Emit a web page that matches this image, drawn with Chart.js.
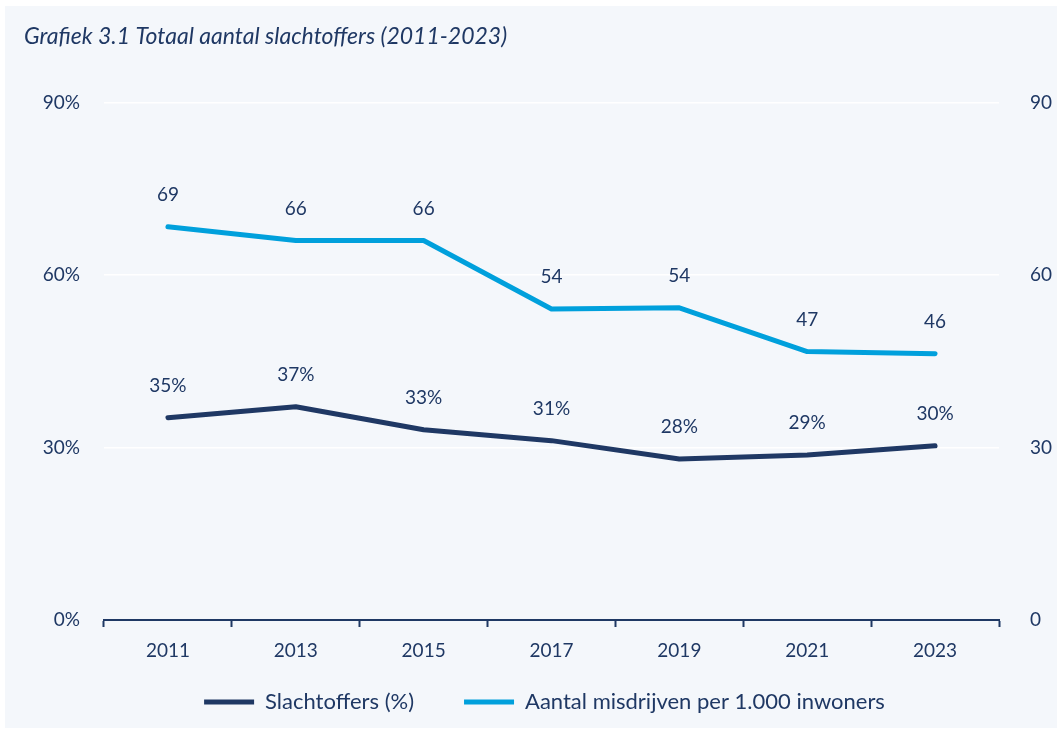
<!DOCTYPE html>
<html>
<head>
<meta charset="utf-8">
<script src="https://cdn.jsdelivr.net/npm/chart.js@4"></script>
<style>
  html, body { margin: 0; padding: 0; background: #ffffff; }
  #panel { position: absolute; left: 5px; top: 6px; width: 1052px; height: 722px; background: #f4f7fb; }
</style>
</head>
<body>
<div id="panel"><canvas id="chart" width="1052" height="722"></canvas></div>
<script>
// Data
const years = ["2011", "2013", "2015", "2017", "2019", "2021", "2023"];
const slachtoffers = [35.2, 37.1, 33.1, 31.2, 28.0, 28.7, 30.3];
const slachtoffersLabels = ["35%", "37%", "33%", "31%", "28%", "29%", "30%"];
const misdrijven = [68.4, 66.0, 66.0, 54.1, 54.3, 46.7, 46.3];
const misdrijvenLabels = ["69", "66", "66", "54", "54", "47", "46"];
const yTicks = [0, 30, 60, 90];

const NAVY = "#1f3864";
const LIGHT = "#00a0dc";
const FONT = "Lato, 'Open Sans', sans-serif";

// Draw value labels above each point
const valueLabels = {
    id: "valueLabels",
    afterDatasetsDraw(chart) {
        const ctx = chart.ctx;
        ctx.save();
        ctx.font = "19px " + FONT;
        ctx.fillStyle = NAVY;
        ctx.textAlign = "center";
        ctx.textBaseline = "middle";
        chart.data.datasets.forEach((ds, i) => {
            const meta = chart.getDatasetMeta(i);
            meta.data.forEach((pt, j) => {
                ctx.fillText(ds.valueText[j], pt.x, pt.y - 32);
            });
        });
        ctx.restore();
    }
};

// The legend uses a wide item gap (padding); keep its box short and lift it
// so the gap does not squeeze the plot area
const legendFit = {
    id: "legendFit",
    afterInit(chart) {
        const lg = chart.legend;
        const fit = lg.fit;
        lg.fit = function () {
            fit.call(this);
            this.height = 64;
        };
    },
    afterLayout(chart) {
        chart.legend.top -= 23;
        chart.legend.left += 4;
        chart.legend.right += 4;
    }
};

new Chart(document.getElementById("chart"), {
    type: "line",
    data: {
        labels: years,
        datasets: [{
            label: "Slachtoffers (%)",
            data: slachtoffers,
            valueText: slachtoffersLabels,
            yAxisID: "y",
            borderColor: NAVY,
            backgroundColor: NAVY,
            borderWidth: 5,
            borderCapStyle: "round",
            borderJoinStyle: "round",
            pointRadius: 0,
            tension: 0
        }, {
            label: "Aantal misdrijven per 1.000 inwoners",
            data: misdrijven,
            valueText: misdrijvenLabels,
            yAxisID: "y1",
            borderColor: LIGHT,
            backgroundColor: LIGHT,
            borderWidth: 5,
            borderCapStyle: "round",
            borderJoinStyle: "round",
            pointRadius: 0,
            tension: 0
        }]
    },
    options: {
        responsive: false,
        animation: false,
        layout: { padding: { left: 19, right: 0, top: 0, bottom: 0 } },
        plugins: {
            title: {
                display: true,
                text: "Grafiek 3.1 Totaal aantal slachtoffers (2011-2023)",
                align: "start",
                color: NAVY,
                font: { family: FONT, size: 23, style: "italic", weight: "normal" },
                padding: { top: 17, bottom: 52 }
            },
            legend: {
                position: "bottom",
                labels: {
                    usePointStyle: true,
                    pointStyle: "line",
                    pointStyleWidth: 50,
                    color: NAVY,
                    font: { family: FONT, size: 22 },
                    padding: 50
                }
            },
            tooltip: { enabled: false }
        },
        scales: {
            x: {
                offset: true,
                afterFit(scale) { scale.height = 44; },
                grid: {
                    offset: true,
                    drawOnChartArea: false,
                    drawTicks: true,
                    tickLength: 7,
                    tickColor: NAVY,
                    tickWidth: 2
                },
                border: { color: NAVY, width: 2 },
                ticks: { color: NAVY, font: { family: FONT, size: 19 }, padding: 12 }
            },
            y: {
                position: "left",
                min: 0,
                max: 90,
                afterBuildTicks(scale) { scale.ticks = yTicks.map(v => ({ value: v })); },
                afterFit(scale) { scale.width = 80; },
                grid: { color: "#ffffff", lineWidth: 1.5, drawTicks: false },
                border: { display: false },
                ticks: {
                    color: NAVY,
                    font: { family: FONT, size: 19 },
                    padding: 24,
                    callback: v => v + "%"
                }
            },
            y1: {
                position: "right",
                min: 0,
                max: 90,
                afterBuildTicks(scale) { scale.ticks = yTicks.map(v => ({ value: v })); },
                afterFit(scale) { scale.width = 58; },
                grid: { display: false },
                border: { display: false },
                ticks: {
                    color: NAVY,
                    font: { family: FONT, size: 19 },
                    padding: 23
                }
            }
        }
    },
    plugins: [valueLabels, legendFit]
});
</script>
</body>
</html>
